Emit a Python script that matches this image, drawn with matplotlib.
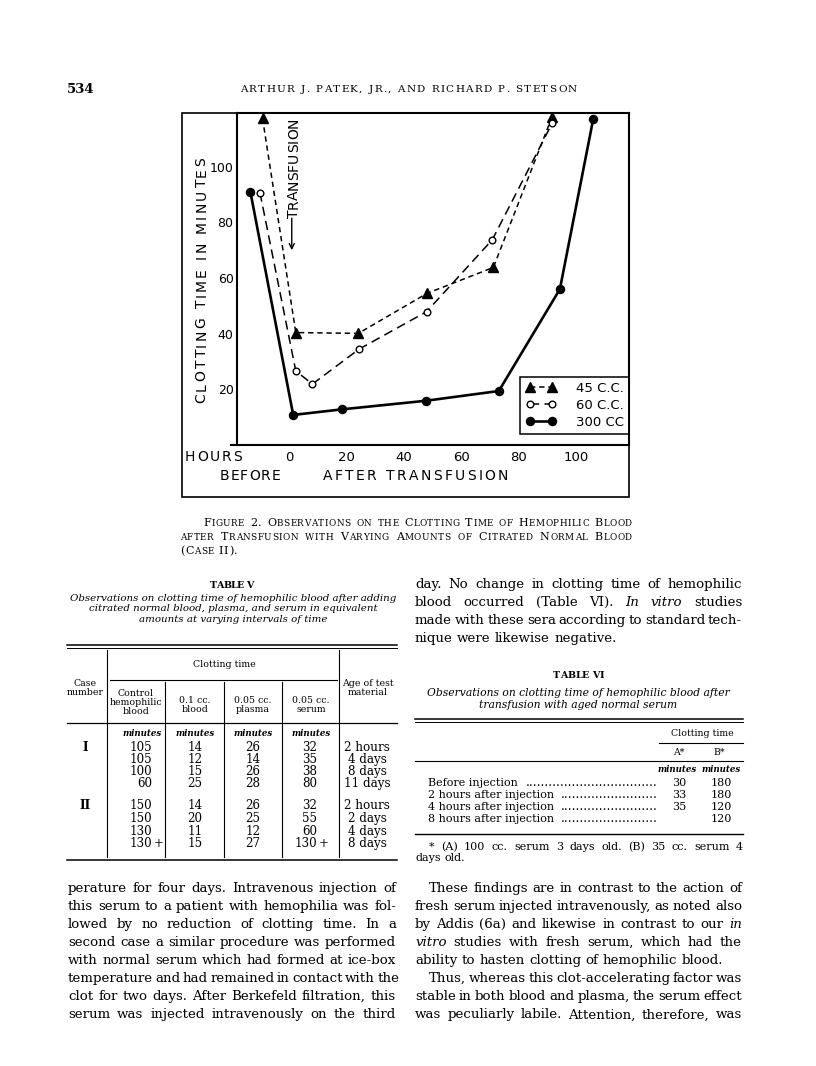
import matplotlib
matplotlib.use("Agg")
import matplotlib.pyplot as plt
from matplotlib.lines import Line2D
from matplotlib.patches import Rectangle

# ======================================================
# DATA
# ======================================================
# Figure 2 - clotting time (minutes) against hours from transfusion
hours_45 = [-9.3, 2.3, 24.1, 48.1, 71.2, 91.7]
clot_45 = [117.4, 40.4, 40.1, 54.5, 63.8, 118.0]
hours_60 = [-10.2, 2.3, 8.1, 24.3, 47.9, 70.8, 91.7]
clot_60 = [90.7, 26.6, 21.9, 34.4, 47.9, 73.7, 115.6]
hours_300 = [-13.5, 1.4, 18.3, 47.7, 73.1, 94.4, 106.0]
clot_300 = [90.8, 10.8, 12.8, 15.9, 19.4, 56.0, 117.0]
series_labels = ["45 C.C.", "60 C.C.", "300 CC"]
x_ticks = [0, 20, 40, 60, 80, 100]
y_ticks = [20, 40, 60, 80, 100]

# Table V
t5_case = ["I", "", "", "", "II", "", "", ""]
t5_control = ["105", "105", "100", "60", "150", "150", "130", "130+"]
t5_blood = ["14", "12", "15", "25", "14", "20", "11", "15"]
t5_plasma = ["26", "14", "26", "28", "26", "25", "12", "27"]
t5_serum = ["32", "35", "38", "80", "32", "55", "60", "130+"]
t5_age = ["2 hours", "4 days", "8 days", "11 days",
          "2 hours", "2 days", "4 days", "8 days"]

# Table VI
t6_rows = ["Before injection", "2 hours after injection",
           "4 hours after injection", "8 hours after injection"]
t6_a = ["30", "33", "35", ""]
t6_b = ["180", "180", "120", "120"]

# Running text of the page
header_left = "534"
header_mid = "ARTHUR J. PATEK, JR., AND RICHARD P. STETSON"
caption = ["Figure 2.  Observations on the Clotting Time of Hemophilic Blood",
           "after Transfusion with Varying Amounts of Citrated Normal Blood",
           "(Case II)."]
t5_title = "TABLE V"
t5_caption = ["Observations on clotting time of hemophilic blood after adding",
              "citrated normal blood, plasma, and serum in equivalent",
              "amounts at varying intervals of time"]
t6_title = "TABLE VI"
t6_caption = ["Observations on clotting time of hemophilic blood after",
              "transfusion with aged normal serum"]
t6_note = ["* (A) 100 cc. serum 3 days old.  (B) 35 cc. serum 4", "days old."]
text_right_top = ["day.  No change in clotting time of hemophilic",
                  "blood occurred (Table VI).  _In_ _vitro_ studies",
                  "made with these sera according to standard tech-",
                  "nique were likewise negative."]
text_left_bottom = ["perature for four days.  Intravenous injection of",
                    "this serum to a patient with hemophilia was fol-",
                    "lowed by no reduction of clotting time.  In a",
                    "second case a similar procedure was performed",
                    "with normal serum which had formed at ice-box",
                    "temperature and had remained in contact with the",
                    "clot for two days.  After Berkefeld filtration, this",
                    "serum was injected intravenously on the third"]
text_right_bottom = ["These findings are in contrast to the action of",
                     "fresh serum injected intravenously, as noted also",
                     "by Addis (6a) and likewise in contrast to our _in_",
                     "_vitro_ studies with fresh serum, which had the",
                     "ability to hasten clotting of hemophilic blood.",
                     "Thus, whereas this clot-accelerating factor was",
                     "stable in both blood and plasma, the serum effect",
                     "was peculiarly labile.  Attention, therefore, was"]

# ======================================================
# PAGE SET-UP  (all layout in pixels from the top-left)
# ======================================================
W, H = 816, 1066
SERIF = "DejaVu Serif"
SANS = "DejaVu Sans"

fig = plt.figure(figsize=(W / 100, H / 100), dpi=100)
fig.patch.set_facecolor("white")
R = fig.canvas.get_renderer()


def fx(x):
    return x / W


def fy(y):
    return 1 - y / H


_widths = {}


def tw(s, size, family=SERIF, style="normal", weight="normal"):
    # ink width of a string in pixels
    key = (s, size, family, style, weight)
    if key not in _widths:
        t = fig.text(0, 0, s, fontsize=size, family=family, style=style, weight=weight)
        _widths[key] = t.get_window_extent(R).width
        t.remove()
    return _widths[key]


def px(size):
    return size * 100 / 72


def put(x, y, s, size, family=SERIF, style="normal", weight="normal",
        ha="left", va="baseline", **kw):
    return fig.text(fx(x), fy(y), s, fontsize=size, family=family, style=style,
                    weight=weight, ha=ha, va=va, **kw)


def base(yc, size, caps=False):
    # baseline from the visual centre of a line
    return yc + (0.365 if caps else 0.27) * px(size)


def hline(x0, x1, y, lw=0.8):
    fig.add_artist(Line2D([fx(x0), fx(x1)], [fy(y), fy(y)], lw=lw, color="black",
                          transform=fig.transFigure))


def vline(x, y0, y1, lw=0.8):
    fig.add_artist(Line2D([fx(x), fx(x)], [fy(y0), fy(y1)], lw=lw, color="black",
                          transform=fig.transFigure))


def tracked(s, a, b, pos, size, family=SANS, weight="normal", vertical=False):
    # spread capitals evenly between a and b (letter-spaced lettering)
    space = 0.35 * px(size)
    ink = sum(tw(c, size, family, weight=weight) for c in s if c != " ")
    n_sp = s.count(" ")
    track = (abs(b - a) - ink - n_sp * space) / (len(s) - 1)
    cur = a
    for c in s:
        if c == " ":
            step = space
        else:
            step = tw(c, size, family, weight=weight)
            if vertical:
                put(pos, cur, c, size, family, weight=weight, rotation=90,
                    rotation_mode="anchor")
            else:
                put(cur, pos, c, size, family, weight=weight)
        cur = cur - (step + track) if vertical else cur + step + track


def words_line(text, x0, yc, size, x1=None, family=SERIF, weight="normal"):
    words = [(t.strip("_"), "italic" if t.startswith("_") else "normal")
             for t in text.split()]
    widths = [tw(s, size, family, st, weight) for s, st in words]
    space = tw("n n", size, family) - tw("nn", size, family)
    if x1 is None or len(words) < 2:
        gap = space
    else:
        gap = max((x1 - x0 - sum(widths)) / (len(words) - 1), 0.55 * space)
    x = x0
    for (s, st), wd in zip(words, widths):
        put(x, base(yc, size), s, size, family, st, weight)
        x += wd + gap


def smallcaps_line(text, x0, yc, big, small, x1=None, track=0.5):
    words = []
    for wd in text.split():
        words.append([(c.upper(), small if c.islower() else big) for c in wd])

    def width(chars):
        return sum(tw(c, s) for c, s in chars) + track * (len(chars) - 1)

    widths = [width(c) for c in words]
    if x1 is None:
        gap = 0.45 * px(big)
    else:
        gap = (x1 - x0 - sum(widths)) / (len(words) - 1)
    x = x0
    for chars, wd in zip(words, widths):
        cx = x
        for c, s in chars:
            put(cx, base(yc, big, True), c, s)
            cx += tw(c, s) + track
        x += wd + gap


def fit(text, width, family=SERIF, style="normal", weight="normal"):
    return 10 * width / tw(text, 10, family, style, weight)


# ======================================================
# HEADER
# ======================================================
put(67, base(88, 9.5, True), header_left, 9.5, weight="bold")
tracked(header_mid, 240, 577, base(88, 7.5, True), 7.5, family=SERIF)

# ======================================================
# FIGURE 2 - THE CHART
# ======================================================
# outer box of the drawing
fig.add_artist(Rectangle((fx(182), fy(497)), (629 - 182) / W, (497 - 112.7) / H,
                         fill=False, lw=1.2, ec="black", transform=fig.transFigure))

ax = fig.add_axes([fx(237), fy(445), (629 - 237) / W, (445 - 112.7) / H])
ax.set_xlim(-18.2, 118.5)
ax.set_ylim(0, 119.4)

ax.plot(hours_45, clot_45, color="black", lw=1.1, ls=(0, (3.5, 2.5)),
        marker="^", ms=7.5, clip_on=False, label=series_labels[0])
ax.plot(hours_60, clot_60, color="black", lw=1.1, ls=(0, (6, 3.5)),
        marker="o", ms=4.8, mfc="white", mew=1.0, clip_on=False,
        label=series_labels[1])
ax.plot(hours_300, clot_300, color="black", lw=1.9, marker="o", ms=5.8,
        clip_on=False, label=series_labels[2])

for sp in ax.spines.values():
    sp.set_linewidth(1.5)
ax.set_xticks(x_ticks)
ax.set_yticks(y_ticks)
ax.tick_params(axis="x", length=0, labelsize=9.5, pad=4.0)
ax.tick_params(axis="y", length=0, labelsize=9.0, pad=2.5)

# x-axis line runs a little past the y-axis
fig.add_artist(Line2D([fx(231), fx(237)], [fy(445), fy(445)], lw=1.5,
                      color="black", transform=fig.transFigure))

leg = ax.legend(loc="lower right", bbox_to_anchor=(1.0, 11 / 332.3),
                borderaxespad=0, frameon=True, fancybox=False, edgecolor="black",
                framealpha=1, fontsize=9.5, handlelength=2.3, handletextpad=1.5,
                labelspacing=0.3, borderpad=0.4, numpoints=2)
leg.get_frame().set_linewidth(1.1)

# transfusion marker
ax.annotate("", xy=(0.9, 70), xytext=(0.9, 81.5),
            arrowprops=dict(arrowstyle="->", lw=1.0, color="black",
                            shrinkA=0, shrinkB=0, mutation_scale=9))
tracked("TRANSFUSION", 218, 118, 293 + 0.365 * px(10), 10, vertical=True)

# axis lettering
tracked("CLOTTING TIME IN MINUTES", 403, 157, 200.5 + 0.365 * px(10), 10,
        vertical=True)
tracked("HOURS", 185, 242, base(456, 10, True), 10)
tracked("BEFORE", 220, 280, base(475, 10, True), 10)
tracked("AFTER TRANSFUSION", 323, 508, base(475, 10, True), 10)

# caption in small capitals
smallcaps_line(caption[0], 203, 521.7, 8.0, 6.4, x1=632)
smallcaps_line(caption[1], 180, 535.5, 8.0, 6.4, x1=632)
smallcaps_line(caption[2], 180, 550, 8.0, 6.4)

# ======================================================
# TABLE V  (left column, x 67 - 397)
# ======================================================
tracked(t5_title, 210, 253, base(585, 6.8, True), 6.8, family=SERIF, weight="bold")
cap_size = fit(t5_caption[0], 328, style="italic")
for i, line in enumerate(t5_caption):
    put(233, base(598 + 10.6 * i, cap_size), line, cap_size, style="italic", ha="center")

hline(67, 397, 645, lw=1.1)
hline(67, 397, 648, lw=0.7)
hline(110, 337, 680, lw=0.8)
hline(67, 397, 723, lw=0.9)
hline(67, 397, 860, lw=1.1)
vline(107, 650, 857)
vline(339, 650, 857)
for xv in (165, 224, 282):
    vline(xv, 682, 857)

hs = fit("Clotting time", 63)
put(224, base(664, hs), "Clotting time", hs, ha="center")
for xc, lines, y0 in [(85, ["Case", "number"], 683),
                      (136, ["Control", "hemophilic", "blood"], 693),
                      (195, ["0.1 cc.", "blood"], 700),
                      (253, ["0.05 cc.", "plasma"], 700),
                      (311, ["0.05 cc.", "serum"], 700),
                      (368, ["Age of test", "material"], 683)]:
    for i, s in enumerate(lines):
        put(xc, base(y0 + 9.2 * i, hs), s, hs, ha="center")
for xc in (142, 195, 253, 311):
    put(xc, base(734, 6.2), "minutes", 6.2, style="italic", weight="bold", ha="center")

vs = fit("105", 22.7)
row_y = [748, 760, 772, 784, 806, 819, 832, 844]


def right_num(xr, yc, s, size):
    # digits flush right, a trailing "+" hangs outside
    if s.endswith("+"):
        put(xr, base(yc, size), s[:-1], size, ha="right")
        put(xr + 1.5, base(yc, size), "+", size)
    else:
        put(xr, base(yc, size), s, size, ha="right")


for i, yc in enumerate(row_y):
    if t5_case[i]:
        put(85, base(yc, vs), t5_case[i], vs, ha="center", weight="bold")
    right_num(152, yc, t5_control[i], vs)
    put(195, base(yc, vs), t5_blood[i], vs, ha="center")
    put(253, base(yc, vs), t5_plasma[i], vs, ha="center")
    right_num(317, yc, t5_serum[i], vs)
    put(367, base(yc, vs), t5_age[i], vs, ha="center")

# ======================================================
# RIGHT COLUMN (x 415 - 742)
# ======================================================
fits = sorted(fit(s.replace("_", ""), 327)
              for s in text_right_top[:3] + text_right_bottom + text_left_bottom)
body = fits[len(fits) // 4]

for i, s in enumerate(text_right_top):
    last = i == len(text_right_top) - 1
    words_line(s, 415, 584 + 18.2 * i, body, x1=None if last else 742)

tracked(t6_title, 553, 604, base(675, 6.8, True), 6.8, family=SERIF, weight="bold")
c6 = fit(t6_caption[0], 302, style="italic")
for i, line in enumerate(t6_caption):
    put(578, base(693 + 12 * i, c6), line, c6, style="italic", ha="center")

hline(415, 743, 719, lw=1.1)
hline(415, 743, 722, lw=0.7)
hline(659, 743, 743, lw=0.8)
hline(415, 743, 761, lw=0.8)
hline(415, 743, 834, lw=1.0)
put(702, base(733, hs), "Clotting time", hs, ha="center")
put(679, base(752, hs), "A*", hs, ha="center")
put(719, base(752, hs), "B*", hs, ha="center")
for xc in (677, 721):
    put(xc, base(770, 6.2), "minutes", 6.2, style="italic", weight="bold", ha="center")

rs = fit(t6_rows[0], 90)
dot = "." * 60
for i, yc in enumerate([783, 795, 807, 819]):
    put(428, base(yc, rs), t6_rows[i], rs)
    start = 428 + tw(t6_rows[i], rs) + 3
    n = int((658 - start) / (0.318 * px(9)))
    put(658, base(yc, rs), dot[:n], 9, ha="right")
    if t6_a[i]:
        put(679, base(yc, rs), t6_a[i], rs, ha="center")
    put(721, base(yc, rs), t6_b[i], rs, ha="center")

words_line(t6_note[0], 429, 847, rs, x1=743)
words_line(t6_note[1], 415, 858, rs)

# ======================================================
# RUNNING TEXT AT THE FOOT OF THE PAGE
# ======================================================
for i, s in enumerate(text_left_bottom):
    words_line(s, 68, 888 + 18.1 * i, body, x1=396)

for i, s in enumerate(text_right_bottom):
    indent = 14 if i in (0, 5) else 0
    ragged = i == 4
    words_line(s, 415 + indent, 888 + 18.1 * i, body, x1=None if ragged else 742)

fig.savefig("out.png", dpi=100, facecolor="white")
